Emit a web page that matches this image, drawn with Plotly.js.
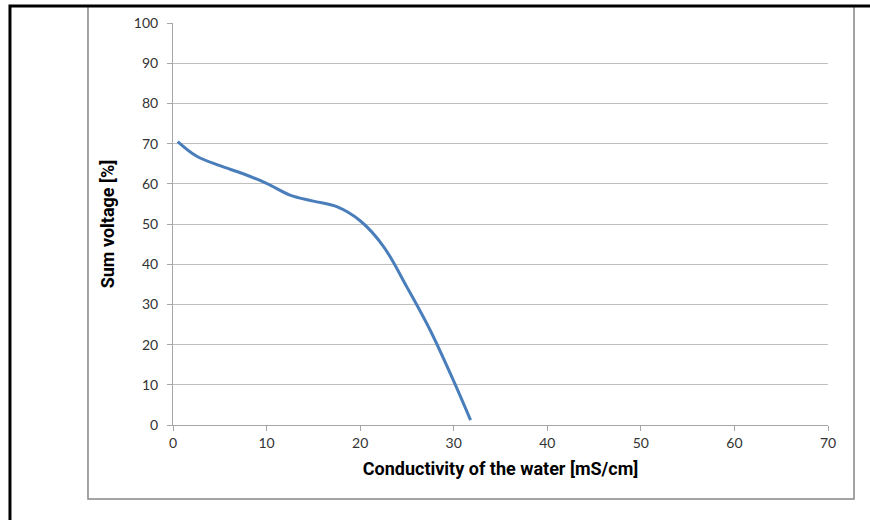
<!DOCTYPE html>
<html>
<head>
<meta charset="utf-8">
<script src="https://cdn.plot.ly/plotly-3.0.1.min.js"></script>
<style>html,body{margin:0;padding:0;background:#fff;}#chart{width:870px;height:520px;}</style>
</head>
<body>
<div id="chart"></div>
<script>
const conductivity = [0.5, 2.5, 5, 7.5, 10, 12.5, 15, 17.5, 20, 22.5, 25, 27.5, 30, 31.8];
const sumVoltage   = [70.5, 66.9, 64.5, 62.5, 60.1, 57.2, 55.7, 54.3, 50.8, 44.4, 34.3, 23.5, 10.9, 1.2];
const xTickValues = [0, 10, 20, 30, 40, 50, 60, 70];
const yTickValues = [0, 10, 20, 30, 40, 50, 60, 70, 80, 90, 100];
const xTitle = 'Conductivity of the water [mS/cm]';
const yTitle = 'Sum voltage [%]';

const tickFont = {family: 'Lato, "Open Sans", sans-serif', size: 14, color: '#333333'};
const titleFont = {family: '"Liberation Sans Narrow", "Roboto", sans-serif', size: 18, color: '#000', weight: 'bold'};

const trace = {
  x: conductivity, y: sumVoltage, type: 'scatter', mode: 'lines',
  line: {color: '#4a7ebb', width: 3, shape: 'spline', smoothing: 1},
  hoverinfo: 'skip'
};

const layout = {
  width: 870, height: 520,
  margin: {l: 173, r: 42, t: 23, b: 95, pad: 0},
  paper_bgcolor: '#fff', plot_bgcolor: '#fff',
  showlegend: false,
  xaxis: {
    range: [0, 70], tickvals: xTickValues, ticktext: xTickValues.map(String),
    showgrid: false, zeroline: false,
    showline: true, linecolor: '#a6a6a6', linewidth: 1,
    ticks: 'outside', ticklen: 5, tickcolor: '#a6a6a6',
    tickfont: tickFont,
    title: {text: xTitle, font: titleFont, standoff: 12}
  },
  yaxis: {
    range: [0, 100], tickvals: yTickValues, ticktext: yTickValues.map(String),
    showgrid: true, gridcolor: '#bfbfbf', gridwidth: 1, zeroline: false,
    showline: true, linecolor: '#a6a6a6', linewidth: 1,
    ticks: 'outside', ticklen: 5, tickcolor: '#a6a6a6',
    ticklabelstandoff: 6,
    tickfont: tickFont,
    title: {text: yTitle, font: titleFont, standoff: 14}
  },
  shapes: [
    {type: 'rect', xref: 'paper', yref: 'paper', x0: -0.1298, x1: 1.0397, y0: -0.184, y1: 1.0423,
     line: {color: '#868686', width: 1.5}, fillcolor: 'rgba(0,0,0,0)', layer: 'below'},
    {type: 'rect', xref: 'paper', yref: 'paper', x0: -0.2489, x1: 1.1, y0: -0.3, y1: 1.0423,
     line: {color: '#000', width: 3}, fillcolor: 'rgba(0,0,0,0)', layer: 'above'}
  ]
};

Plotly.newPlot('chart', [trace], layout, {staticPlot: true, displayModeBar: false});
</script>
</body>
</html>
